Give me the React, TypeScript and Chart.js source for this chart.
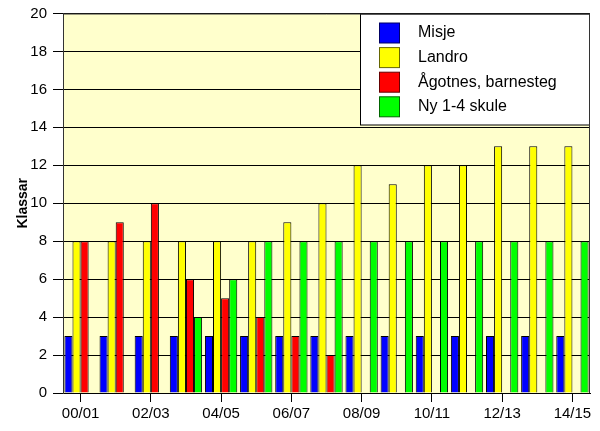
import React, { useEffect, useRef } from "react";
import { Chart, registerables } from "chart.js";

Chart.register(...registerables);

const categories = ["00/01", "01/02", "02/03", "03/04", "04/05", "05/06", "06/07", "07/08", "08/09", "09/10", "10/11", "11/12", "12/13", "13/14", "14/15"];
const misje = [3, 3, 3, 3, 3, 3, 3, 3, 3, 3, 3, 3, 3, 3, 3];
const landro = [8, 8, 8, 8, 8, 8, 9, 10, 12, 11, 12, 12, 13, 13, 13];
const agotnes = [8, 9, 10, 6, 5, 4, 3, 2, 0, 0, 0, 0, 0, 0, 0];
const ny14 = [0, 0, 0, 4, 6, 8, 8, 8, 8, 8, 8, 8, 8, 8, 8];
const seriesNames = ["Misje", "Landro", "Ågotnes, barnesteg", "Ny 1-4 skule"];
const seriesColors = ["#0000FF", "#FFFF00", "#FF0000", "#00FF00"];
const seriesBorders = ["#000066", "#666600", "#660000", "#006600"];
const yTitle = "Klassar";

const FONT = "'Liberation Sans', Arial, Helvetica, sans-serif";

const framePlugin = {
  id: "frame",
  beforeDraw(chart: any) {
    const { ctx, chartArea: a } = chart;
    ctx.save();
    ctx.fillStyle = "#FFFFCC";
    ctx.fillRect(a.left, a.top, a.right - a.left, a.bottom - a.top);
    ctx.restore();
  },
  afterDraw(chart: any) {
    const { ctx, chartArea: a } = chart;
    ctx.save();
    const bx = 360.5, by = a.top + 0.5, bw = a.right - 361, bh = 111;
    ctx.fillStyle = "#FFFFFF";
    ctx.fillRect(bx, by, bw, bh);
    ctx.strokeStyle = "#000";
    ctx.lineWidth = 1;
    ctx.strokeRect(bx, by, bw, bh);
    ctx.font = `16px ${FONT}`;
    ctx.textBaseline = "middle";
    ctx.textAlign = "left";
    chart.data.datasets.forEach((ds: any, i: number) => {
      const sy = a.top + 9.5 + i * 24.6;
      ctx.fillStyle = ds.backgroundColor;
      ctx.fillRect(379.5, sy, 20, 20);
      ctx.strokeStyle = ds.legendBorder;
      ctx.strokeRect(379.5, sy, 20, 20);
      ctx.fillStyle = "#000";
      ctx.fillText(ds.label, 418, sy + 10);
    });
    ctx.strokeStyle = "#333";
    ctx.beginPath();
    ctx.moveTo(a.left, a.top + 0.5);
    ctx.lineTo(a.right, a.top + 0.5);
    ctx.moveTo(a.right - 0.5, a.top);
    ctx.lineTo(a.right - 0.5, a.bottom);
    ctx.stroke();
    ctx.restore();
  },
};

export default function App() {
  const ref = useRef<HTMLCanvasElement>(null);
  useEffect(() => {
    document.body.style.margin = "0";
    const values = [misje, landro, agotnes, ny14];
    const chart = new Chart(ref.current!, {
      type: "bar",
      data: {
        labels: categories,
        datasets: values.map((v, i) => ({
          label: seriesNames[i],
          data: v,
          backgroundColor: seriesColors[i],
          borderColor: "#000",
          borderWidth: 1,
          legendBorder: seriesBorders[i],
          categoryPercentage: 0.92,
          barPercentage: 1,
        })) as any,
      },
      options: {
        animation: false,
        responsive: false,
        maintainAspectRatio: false,
        layout: { padding: { top: 13, right: 10, bottom: 0, left: 0 } },
        plugins: { legend: { display: false }, tooltip: { enabled: false } },
        scales: {
          x: {
            afterFit: (s: any) => { s.height = 38; },
            grid: {
              offset: false,
              drawOnChartArea: false,
              tickLength: 9,
              color: (c: any) => (c.index % 2 === 0 ? "#000" : "rgba(0,0,0,0)"),
            },
            border: { display: true, color: "#000" },
            ticks: {
              autoSkip: false,
              maxRotation: 0,
              padding: 3,
              color: "#000",
              font: { family: FONT, size: 15 },
              callback: (_v: any, i: number) => (i % 2 === 0 ? categories[i] : ""),
            },
          },
          y: {
            min: 0,
            max: 20,
            afterFit: (s: any) => { s.width = 63; },
            ticks: { stepSize: 2, padding: 6, color: "#000", font: { family: FONT, size: 15, lineHeight: 1 } },
            grid: { color: "#000", tickLength: 10, lineWidth: 1 },
            border: { display: true, color: "#333" },
            title: {
              display: true,
              text: yTitle,
              color: "#000",
              font: { family: FONT, size: 14, weight: "bold" },
              padding: { top: 15, bottom: 0 },
            },
          },
        },
      },
      plugins: [framePlugin],
    });
    return () => chart.destroy();
  }, []);
  return <canvas ref={ref} width={600} height={431} style={{ display: "block" }} />;
}
